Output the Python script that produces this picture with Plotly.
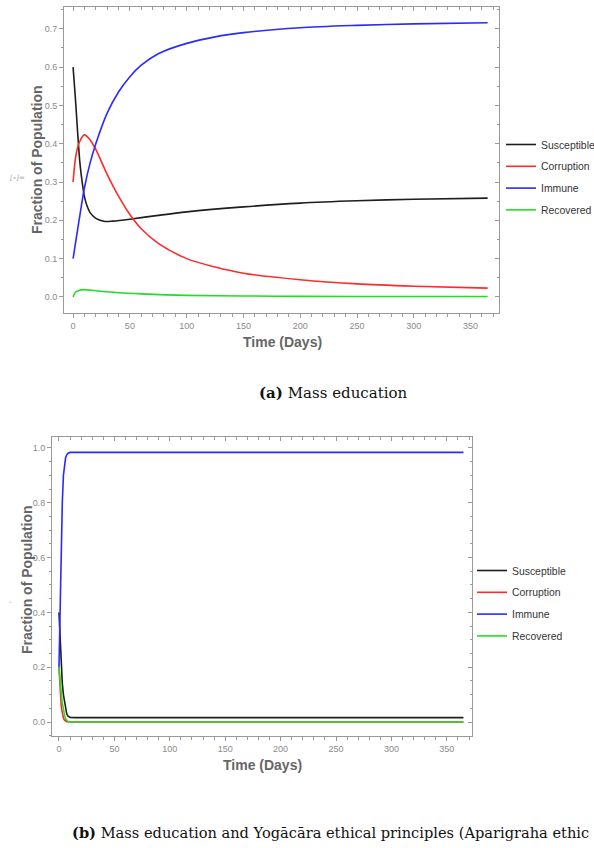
import plotly.graph_objects as go

# ---------------- data: panel (a) Mass education ----------------
t_a_S = [0, 2, 4, 6, 8, 10, 12, 15, 20, 28, 35, 50, 75, 100, 150, 200, 250, 300, 365]
S_a = [0.60, 0.52, 0.43, 0.35, 0.30, 0.262, 0.24, 0.22, 0.205, 0.197, 0.198, 0.203, 0.213, 0.222, 0.235, 0.245, 0.251, 0.255, 0.258]

t_a_C = [0, 2, 5, 10, 15, 20, 30, 40, 50, 60, 75, 100, 125, 150, 200, 250, 300, 365]
C_a = [0.30, 0.36, 0.40, 0.423, 0.41, 0.385, 0.32, 0.263, 0.215, 0.178, 0.14, 0.10, 0.078, 0.062, 0.045, 0.034, 0.028, 0.023]

t_a_I = [0, 5, 10, 15, 20, 30, 40, 50, 60, 75, 100, 125, 150, 200, 250, 300, 365]
I_a = [0.10, 0.195, 0.285, 0.35, 0.40, 0.48, 0.535, 0.575, 0.605, 0.635, 0.662, 0.679, 0.69, 0.703, 0.709, 0.713, 0.716]

t_a_R = [0, 2, 5, 10, 20, 40, 60, 100, 150, 200, 300, 365]
R_a = [0.0, 0.012, 0.017, 0.019, 0.016, 0.011, 0.008, 0.004, 0.0025, 0.0015, 0.001, 0.001]

# ---------------- data: panel (b) Mass education + Yogācāra ----------------
t_b = [0, 0.5, 1, 1.5, 2, 2.5, 3, 4, 5, 6, 7, 8, 10, 15, 50, 100, 200, 300, 365]
S_b = [0.40, 0.35, 0.30, 0.25, 0.20, 0.17, 0.14, 0.10, 0.07, 0.045, 0.03, 0.022, 0.017, 0.016, 0.016, 0.016, 0.016, 0.016, 0.016]
C_b = [0.20, 0.15, 0.11, 0.08, 0.06, 0.045, 0.03, 0.015, 0.007, 0.003, 0.0015, 0.001, 0.0, 0.0, 0.0, 0.0, 0.0, 0.0, 0.0]
I_b = [0.20, 0.30, 0.42, 0.55, 0.65, 0.74, 0.80, 0.90, 0.945, 0.965, 0.975, 0.98, 0.984, 0.984, 0.984, 0.984, 0.984, 0.984, 0.984]
R_b = [0.20, 0.17, 0.14, 0.12, 0.10, 0.085, 0.07, 0.045, 0.025, 0.012, 0.005, 0.002, 0.0, 0.0, 0.0, 0.0, 0.0, 0.0, 0.0]

names = ["Susceptible", "Corruption", "Immune", "Recovered"]
colors = ["#1e1e1e", "#ff2a2a", "#2a2aff", "#22dd22"]

caption_a = "<b>(a)</b> Mass education"
caption_b = "<b>(b)</b> Mass education and Yogācāra ethical principles (Aparigraha ethic"

W, H = 594, 848

def px(x):
    return x / W

def py(y):
    return 1 - y / H

fig = go.Figure()

series_a = [(t_a_S, S_a), (t_a_C, C_a), (t_a_I, I_a), (t_a_R, R_a)]
for (tx, ty), n, c in zip(series_a, names, colors):
    fig.add_trace(go.Scatter(x=tx, y=ty, mode="lines", name=n, legendgroup="a" + n,
                             line=dict(color=c, width=1.6, shape="spline", smoothing=0.8),
                             xaxis="x", yaxis="y", legend="legend"))

series_b = [S_b, C_b, I_b, R_b]
for ty, n, c in zip(series_b, names, colors):
    fig.add_trace(go.Scatter(x=t_b, y=ty, mode="lines", name=n, legendgroup="b" + n,
                             line=dict(color=c, width=1.6),
                             xaxis="x2", yaxis="y2", legend="legend2"))

axis_col = "#9a9a9a"
tick_font = dict(family="Liberation Sans, Arial", size=9, color="#8a8a8a")

def xax(domain, rng, anchor, minor_dtick):
    return dict(domain=domain, range=rng, anchor=anchor, showgrid=False, zeroline=False,
                showline=True, linecolor=axis_col, linewidth=1, mirror=False,
                ticks="outside", ticklen=4, tickcolor=axis_col, tickwidth=1,
                tick0=0, dtick=50, tickfont=tick_font, automargin=False,
                minor=dict(ticks="outside", ticklen=2.5, tickcolor=axis_col, dtick=minor_dtick, tick0=0))

def yax(domain, rng, anchor, dtick, minor_dtick):
    return dict(domain=domain, range=rng, anchor=anchor, showgrid=False, zeroline=False,
                showline=True, linecolor=axis_col, linewidth=1, mirror=False,
                ticks="outside", ticklen=4, tickcolor=axis_col, tickwidth=1,
                tick0=0, dtick=dtick, tickformat=".1f", tickfont=tick_font, automargin=False,
                minor=dict(ticks="outside", ticklen=2.5, tickcolor=axis_col, dtick=minor_dtick, tick0=0))

def xtop(domain, rng, anchor, overl, minor_dtick):
    return dict(domain=domain, range=rng, anchor=anchor, overlaying=overl, side="top",
                showgrid=False, zeroline=False, showline=True, linecolor=axis_col, linewidth=1,
                ticks="inside", ticklen=4, tickcolor=axis_col, showticklabels=False,
                tick0=0, dtick=50, automargin=False,
                minor=dict(ticks="inside", ticklen=2.5, tickcolor=axis_col, dtick=minor_dtick, tick0=0))

def yright(domain, rng, anchor, overl, dtick, minor_dtick):
    return dict(domain=domain, range=rng, anchor=anchor, overlaying=overl, side="right",
                showgrid=False, zeroline=False, showline=True, linecolor=axis_col, linewidth=1,
                ticks="inside", ticklen=4, tickcolor=axis_col, showticklabels=False,
                tick0=0, dtick=dtick, automargin=False,
                minor=dict(ticks="inside", ticklen=2.5, tickcolor=axis_col, dtick=minor_dtick, tick0=0))

xa_dom = [px(64), px(499)]
ya_dom = [py(313), py(7)]
xb_dom = [px(52), px(472)]
yb_dom = [py(736), py(437)]
xa_rng = [-8, 375]
ya_rng = [-0.042, 0.757]
xb_rng = [-6.3, 372.7]
yb_rng = [-0.051, 1.04]

# invisible dummy traces to activate the mirror axes
fig.add_trace(go.Scatter(x=[], y=[], xaxis="x3", yaxis="y3", showlegend=False))
fig.add_trace(go.Scatter(x=[], y=[], xaxis="x4", yaxis="y4", showlegend=False))

leg_font = dict(family="Liberation Sans, Arial", size=10.4, color="#333333")

fig.update_layout(
    width=W, height=H, margin=dict(l=0, r=0, t=0, b=0, autoexpand=False),
    paper_bgcolor="white", plot_bgcolor="white",
    xaxis=xax(xa_dom, xa_rng, "y", 10),
    yaxis=yax(ya_dom, ya_rng, "x", 0.1, 0.05),
    xaxis2=xax(xb_dom, xb_rng, "y2", 10),
    yaxis2=yax(yb_dom, yb_rng, "x2", 0.2, 0.05),
    xaxis3=xtop(xa_dom, xa_rng, "y3", "x", 10),
    yaxis3=yright(ya_dom, ya_rng, "x3", "y", 0.1, 0.05),
    xaxis4=xtop(xb_dom, xb_rng, "y4", "x2", 10),
    yaxis4=yright(yb_dom, yb_rng, "x4", "y2", 0.2, 0.05),
    legend=dict(x=px(501), y=py(130), xanchor="left", yanchor="top", font=leg_font,
                bgcolor="rgba(0,0,0,0)", tracegroupgap=2.8, itemwidth=30),
    legend2=dict(x=px(472), y=py(556), xanchor="left", yanchor="top", font=leg_font,
                 bgcolor="rgba(0,0,0,0)", tracegroupgap=2.8, itemwidth=30),
    showlegend=True,
)

title_font = dict(family="Liberation Sans, Arial", size=14, color="#666666")
ann = [
    dict(text="<b>Fraction of Population</b>", x=px(37), y=py(160), textangle=-90, font=title_font),
    dict(text="<b>Time (Days)</b>", x=px(282), y=py(342), font=title_font),
    dict(text="<b>Fraction of Population</b>", x=px(27), y=py(580), textangle=-90, font=title_font),
    dict(text="<b>Time (Days)</b>", x=px(262), y=py(765), font=title_font),
    dict(text="<i>[∘]=</i>", x=px(17), y=py(178), textangle=0,
         font=dict(family="DejaVu Serif", size=7, color="#aaaaaa")),
    dict(text="\"", x=px(10), y=py(603), textangle=0,
         font=dict(family="DejaVu Serif", size=6, color="#aaaaaa")),
    dict(text=caption_a, x=px(333), y=py(393),
         font=dict(family="DejaVu Serif", size=15, color="#111111")),
    dict(text=caption_b, x=px(70), y=py(832), xanchor="left",
         font=dict(family="DejaVu Serif", size=14.6, color="#111111")),
]
for a in ann:
    a.setdefault("xanchor", "center")
    a.update(xref="paper", yref="paper", showarrow=False, yanchor="middle")
fig.update_layout(annotations=ann)

fig.write_html("out.html")
